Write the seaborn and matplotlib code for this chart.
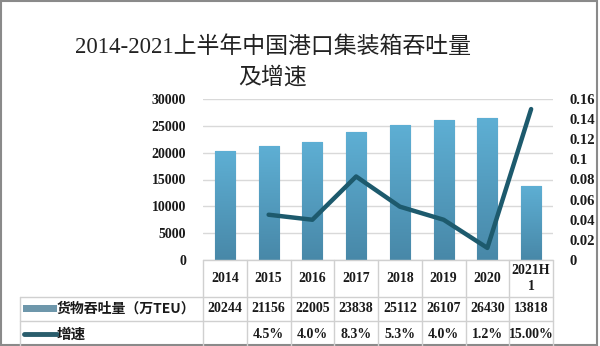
import numpy as np
import pandas as pd
import matplotlib
matplotlib.use("Agg")
import matplotlib.pyplot as plt
from matplotlib.colors import LinearSegmentedColormap
from matplotlib.patches import Rectangle
from matplotlib.lines import Line2D
import seaborn as sns

# ---- data ----
categories = ["2014", "2015", "2016", "2017", "2018", "2019", "2020", "2021H1"]
year_labels = ["2014", "2015", "2016", "2017", "2018", "2019", "2020", "2021H\n1"]
throughput = [20244, 21156, 22005, 23838, 25112, 26107, 26430, 13818]
growth = [None, 0.045, 0.040, 0.083, 0.053, 0.040, 0.012, 0.150]
growth_labels = ["", "4.5%", "4.0%", "8.3%", "5.3%", "4.0%", "1.2%", "15.00%"]
left_ticks = [0, 5000, 10000, 15000, 20000, 25000, 30000]
right_ticks = [0, 0.02, 0.04, 0.06, 0.08, 0.1, 0.12, 0.14, 0.16]
right_tick_labels = ["0", "0.02", "0.04", "0.06", "0.08", "0.1", "0.12", "0.14", "0.16"]
title = "2014-2021上半年中国港口集装箱吞吐量\n及增速"
bar_name = "货物吞吐量（万TEU）"
line_name = "增速"

sns.set_theme(style="white")
plt.rcParams["font.family"] = ["Liberation Serif", "Noto Sans CJK SC", "DejaVu Sans"]

W, H = 600, 346
fig = plt.figure(figsize=(W / 100, H / 100), dpi=100)
fig.patch.set_facecolor("white")


def fx(px):
    return px / W


def fy(py):
    return 1 - py / H


# outer frame
fig.add_artist(Rectangle((fx(1), fy(345)), fx(597) - fx(1), fy(1) - fy(345),
                         transform=fig.transFigure, fill=False,
                         edgecolor="#8a8a8a", linewidth=1.5))

x0, x1 = 203, 553
ytop, ybot = 99, 260
ax = fig.add_axes([fx(x0), fy(ybot), fx(x1) - fx(x0), fy(ytop) - fy(ybot)])

df = pd.DataFrame({"cat": categories, "val": throughput})
sns.barplot(data=df, x="cat", y="val", order=categories, ax=ax,
            width=0.46, color="#4f97bb", edgecolor="#3c7694", linewidth=0.8,
            saturation=1)
ax.set_ylim(0, 30000)
ax.set_xlim(-0.5, len(categories) - 0.5)
ax.set_yticks(left_ticks)
ax.set_yticklabels([str(t) for t in left_ticks], fontsize=10, fontweight="bold",
                   color="#1a1a1a")
ax.tick_params(axis="y", length=0, pad=12)
ax.set_xticks([])
ax.set_xlabel("")
ax.set_ylabel("")
ax.grid(axis="y", color="#d9d9d9", linewidth=1)
ax.set_axisbelow(True)
for s in ax.spines.values():
    s.set_visible(False)

# vertical gradient fill on each bar
cmap = LinearSegmentedColormap.from_list("bar", ["#4888a8", "#5eafd4"])
grad = np.linspace(0, 1, 256).reshape(-1, 1)
for p in list(ax.patches):
    bx, by = p.get_x(), p.get_y()
    bw, bh = p.get_width(), p.get_height()
    im = ax.imshow(grad, cmap=cmap, origin="lower", aspect="auto",
                   extent=[bx, bx + bw, by, by + bh], zorder=2.5)
    im.set_clip_path(p)
ax.set_xlim(-0.5, len(categories) - 0.5)
ax.set_ylim(0, 30000)

ax2 = ax.twinx()
gdf = pd.DataFrame({"pos": [categories.index(c) for c in categories], "g": growth}).dropna()
sns.lineplot(data=gdf, x="pos", y="g", ax=ax2, color="#1d5a6d", linewidth=3.2,
             solid_joinstyle="round", solid_capstyle="round")
ax2.set_ylim(0, 0.16)
ax2.set_xlim(-0.5, len(categories) - 0.5)
ax2.set_yticks(right_ticks)
ax2.set_yticklabels(right_tick_labels, fontsize=10.5, fontweight="bold", color="#1a1a1a")
ax2.tick_params(axis="y", length=0, pad=12)
ax2.set_ylabel("")
ax2.set_xlabel("")
for s in ax2.spines.values():
    s.set_visible(False)

# title
fig.text(0.455, fy(47), title.split("\n")[0], ha="center", va="center", fontsize=16.5,
         color="#222222", family=["Liberation Serif", "Noto Sans CJK SC"])
fig.text(0.455, fy(78), title.split("\n")[1], ha="center", va="center", fontsize=16.5,
         color="#222222", family=["Liberation Serif", "Noto Sans CJK SC"])

# data table below the axes
grid_c = "#d0d0d0"
col_edges = np.linspace(x0, x1, len(categories) + 1)
row_y = [260, 297, 321, 346]
leg_x = 20
lines = []
# horizontal rules
lines.append(((x0, x1), (row_y[0], row_y[0])))
lines.append(((leg_x, x1), (row_y[1], row_y[1])))
lines.append(((leg_x, x1), (row_y[2], row_y[2])))
# vertical rules
for e in col_edges:
    lines.append(((e, e), (row_y[0], row_y[3])))
lines.append(((leg_x, leg_x), (row_y[1], row_y[3])))
for (xs, ys) in lines:
    fig.add_artist(Line2D([fx(xs[0]), fx(xs[1])], [fy(ys[0]), fy(ys[1])],
                          transform=fig.transFigure, color=grid_c, linewidth=1))

centers = (col_edges[:-1] + col_edges[1:]) / 2
txt_kw = dict(ha="center", va="center", fontweight="bold", color="#1a1a1a",
              family=["Liberation Serif", "Noto Sans CJK SC"])
for c, lab in zip(centers, year_labels):
    fig.text(fx(c), fy(278.5), lab, fontsize=10, linespacing=1.3, **txt_kw)
for c, v in zip(centers, throughput):
    fig.text(fx(c), fy(309), str(v), fontsize=10, **txt_kw)
for c, lab in zip(centers, growth_labels):
    fig.text(fx(c), fy(334), lab, fontsize=10, **txt_kw)

# legend keys in the table
fig.add_artist(Rectangle((fx(23), fy(312)), fx(57) - fx(23), fy(305) - fy(312),
                         transform=fig.transFigure, facecolor="#6e97ab",
                         edgecolor="none"))
fig.add_artist(Line2D([fx(24), fx(57)], [fy(334), fy(334)], transform=fig.transFigure,
                      color="#2a5d6c", linewidth=3.5, solid_capstyle="round"))
fig.text(fx(57), fy(309), bar_name, ha="left", va="center", fontsize=10,
         fontweight="bold", color="#1a1a1a", family=["Noto Sans CJK SC"])
fig.text(fx(57), fy(334), line_name, ha="left", va="center", fontsize=10.5,
         fontweight="bold", color="#1a1a1a", family=["Noto Sans CJK SC"])

fig.savefig("out.png", dpi=100, facecolor="white")
